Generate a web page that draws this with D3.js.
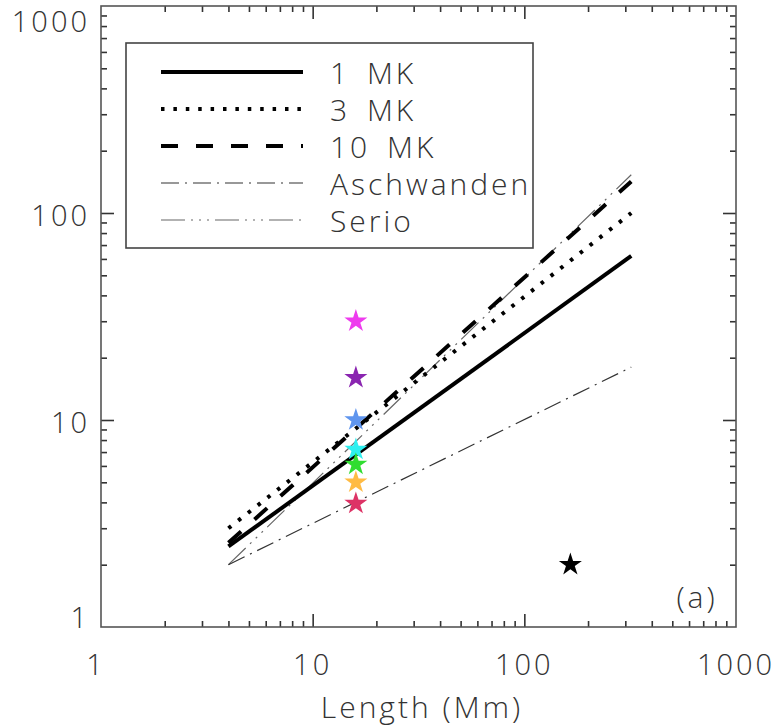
<!DOCTYPE html>
<html>
<head>
<meta charset="utf-8">
<script src="https://cdn.jsdelivr.net/npm/d3@7"></script>
<style>
  html, body { margin: 0; padding: 0; background: #fff; }
  svg { display: block; }
  text { font-family: "Open Sans", "DejaVu Sans", sans-serif; font-weight: 300; fill: #333; letter-spacing: 3px; }
</style>
</head>
<body>
<svg id="chart" width="777" height="727"></svg>
<script>
// ---------- data ----------
const xDomain = [1, 1000];
const yDomain = [1, 1000];
const majorTicks = [1, 10, 100, 1000];
const tickLabels = ["1", "10", "100", "1000"];
const xTitle = "Length (Mm)";
const panelLabel = "(a)";

// model curves: [start, end] in length (Mm) and value
const curveLength = [4, 320];
const curve1MK = [2.45, 62];
const curve3MK = [3.0, 100];
const curve10MK = [2.55, 142];
const curveAschwanden = [2.0, 18];
const curveSerio = [2.0, 153];

const seriesNames = ["1 MK", "3 MK", "10 MK", "Aschwanden", "Serio"];

// star observations
const starLength = [16, 16, 16, 16, 16, 16, 16];
const starValue = [30, 16, 10, 7.2, 6.1, 5.0, 3.95];
const starColor = ["#ee3bee", "#8a25b0", "#5f95ee", "#2ef0f0", "#30dd30", "#ffbb44", "#dd3366"];
const blackStarLength = [165];
const blackStarValue = [2.0];

// ---------- layout ----------
const svg = d3.select("#chart");
const M = { left: 101, right: 736, top: 6, bottom: 627 };
const x = d3.scaleLog().domain(xDomain).range([M.left, M.right]);
const y = d3.scaleLog().domain(yDomain).range([M.bottom, M.top]);

const minorTicks = [];
[1, 10, 100].forEach(d => { for (let k = 2; k <= 9; k++) minorTicks.push(d * k); });

const axisColor = "#555";
const FS = 29;

function styleAxis(g) {
  g.select(".domain").remove();
  g.selectAll(".tick line").attr("stroke", "#333").attr("stroke-width", 1.6);
  g.selectAll(".tick text").remove();
}

const sideDefs = [
  { ax: () => d3.axisBottom(x), t: `translate(0,${M.bottom})` },
  { ax: () => d3.axisTop(x), t: `translate(0,${M.top})` },
  { ax: () => d3.axisLeft(y), t: `translate(${M.left},0)` },
  { ax: () => d3.axisRight(y), t: `translate(${M.right},0)` }
];
sideDefs.forEach(s => {
  svg.append("g").attr("transform", s.t)
    .call(s.ax().tickValues(majorTicks.slice(1, 3)).tickSize(-13).tickFormat(""))
    .call(styleAxis);
  svg.append("g").attr("transform", s.t)
    .call(s.ax().tickValues(minorTicks).tickSize(-6).tickFormat(""))
    .call(styleAxis);
});

// frame
svg.append("rect")
  .attr("x", M.left).attr("y", M.top)
  .attr("width", M.right - M.left).attr("height", M.bottom - M.top)
  .attr("fill", "none").attr("stroke", axisColor).attr("stroke-width", 1.6);

// tick labels
const yLabelOffset = [-11, 1, 1, 14];
svg.append("g").selectAll("text").data(majorTicks).join("text")
  .attr("x", 90)
  .attr("y", (d, i) => y(d) + yLabelOffset[i])
  .attr("text-anchor", "end")
  .attr("dominant-baseline", "central")
  .attr("font-size", FS)
  .text((d, i) => tickLabels[i]);

const xLabelOffset = [-5, 0, 0, 0];
svg.append("g").selectAll("text").data(majorTicks).join("text")
  .attr("x", (d, i) => x(d) + xLabelOffset[i])
  .attr("y", 663)
  .attr("text-anchor", "middle")
  .attr("dominant-baseline", "central")
  .attr("font-size", FS)
  .text((d, i) => tickLabels[i]);

svg.append("text")
  .attr("x", 422).attr("y", 706)
  .attr("text-anchor", "middle")
  .attr("dominant-baseline", "central")
  .attr("font-size", FS + 1)
  .text(xTitle);

svg.append("text")
  .attr("x", 697).attr("y", 596)
  .attr("text-anchor", "middle")
  .attr("dominant-baseline", "central")
  .attr("font-size", FS + 1)
  .text(panelLabel);

// curves
const styles = [
  { color: "#000", width: 4, dash: null },
  { color: "#000", width: 4, dash: "3.5,8.9" },
  { color: "#000", width: 4, dash: "17,18" },
  { color: "#333", width: 1.2, dash: "18,6,2,6" },
  { color: "#666", width: 1.2, dash: "24,6,2,6,2,6,2,6" }
];
const curves = [curve1MK, curve3MK, curve10MK, curveAschwanden, curveSerio];
const line = d3.line().x(d => x(d[0])).y(d => y(d[1]));

const drawOrder = [4, 3, 0, 1, 2];
drawOrder.forEach(i => {
  const pts = curveLength.map((L, j) => [L, curves[i][j]]);
  svg.append("path")
    .attr("d", line(pts))
    .attr("fill", "none")
    .attr("stroke", styles[i].color)
    .attr("stroke-width", styles[i].width)
    .attr("stroke-dasharray", styles[i].dash)
    .attr("stroke-linecap", "butt");
});

// stars
const star = d3.symbol().type(d3.symbolStar).size(165);
svg.append("g").selectAll("path").data(starValue).join("path")
  .attr("transform", (d, i) => `translate(${x(starLength[i])},${y(d)})`)
  .attr("d", star)
  .attr("fill", (d, i) => starColor[i]);
svg.append("g").selectAll("path").data(blackStarValue).join("path")
  .attr("transform", (d, i) => `translate(${x(blackStarLength[i])},${y(d)})`)
  .attr("d", star)
  .attr("fill", "#000");

// legend
const lg = svg.append("g");
lg.append("rect")
  .attr("x", 126).attr("y", 43).attr("width", 407).attr("height", 205)
  .attr("fill", "#fff").attr("stroke", "#444").attr("stroke-width", 1.6);
const legendY = [72, 109, 146, 183, 220];
seriesNames.forEach((name, i) => {
  lg.append("line")
    .attr("x1", 161).attr("x2", 303)
    .attr("y1", legendY[i]).attr("y2", legendY[i])
    .attr("stroke", styles[i].color)
    .attr("stroke-width", styles[i].width)
    .attr("stroke-dasharray", styles[i].dash);
  lg.append("text")
    .attr("x", 330).attr("y", legendY[i])
    .attr("dominant-baseline", "central")
    .attr("font-size", FS + 1)
    .style("word-spacing", "6px")
    .text(name);
});
</script>
</body>
</html>
